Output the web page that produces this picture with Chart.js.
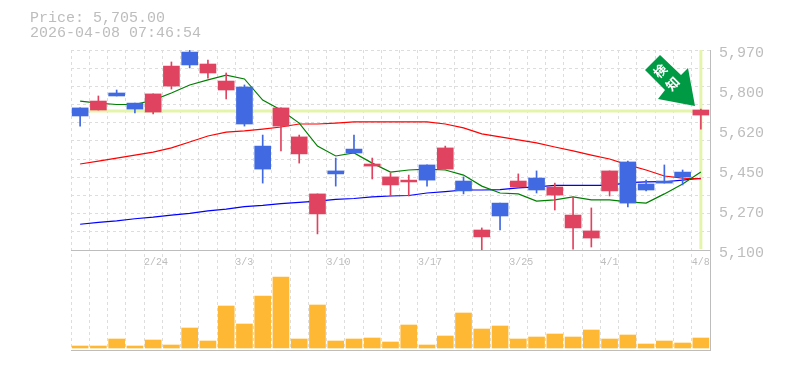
<!DOCTYPE html>
<html>
<head>
<meta charset="utf-8">
<style>
    html, body { margin: 0; padding: 0; background: #fff; }
    #wrap { width: 785px; height: 370px; position: relative; }
</style>
<script src="https://cdn.jsdelivr.net/npm/chart.js@4"></script>
</head>
<body>
<div id="wrap"><canvas id="stockChart" width="785" height="370"></canvas></div>
<script>
// Chart data
const dates = ['2/17', '2/18', '2/19', '2/20', '2/24', '2/25', '2/26', '2/27', '3/2', '3/3', '3/4', '3/5', '3/6', '3/9', '3/10', '3/11', '3/12', '3/13', '3/16', '3/17', '3/18', '3/19', '3/23', '3/24', '3/25', '3/26', '3/27', '3/30', '3/31', '4/1', '4/2', '4/3', '4/6', '4/7', '4/8'];
const shownDates = ['2/24', '3/3', '3/10', '3/17', '3/25', '4/1', '4/8'];

const opens = [5718, 5709, 5783, 5739, 5700, 5813, 5961, 5870, 5796, 5809, 5552, 5639, 5518, 5257, 5444, 5539, 5465, 5383, 5396, 5470, 5452, 5400, 5157, 5304, 5374, 5413, 5339, 5196, 5152, 5357, 5483, 5387, 5400, 5439, 5687];
const closes = [5683, 5748, 5770, 5713, 5779, 5900, 5905, 5909, 5835, 5648, 5452, 5718, 5592, 5344, 5431, 5522, 5474, 5418, 5404, 5404, 5544, 5357, 5187, 5248, 5400, 5361, 5374, 5252, 5183, 5444, 5304, 5361, 5391, 5418, 5709];
const highs = [5718, 5770, 5796, 5739, 5779, 5918, 5970, 5926, 5870, 5818, 5600, 5718, 5600, 5344, 5500, 5600, 5500, 5435, 5426, 5470, 5552, 5418, 5196, 5304, 5431, 5444, 5391, 5331, 5283, 5444, 5487, 5404, 5470, 5448, 5713];
const lows = [5639, 5709, 5770, 5696, 5692, 5800, 5892, 5848, 5757, 5639, 5391, 5531, 5478, 5170, 5378, 5522, 5409, 5335, 5335, 5378, 5452, 5344, 5100, 5187, 5374, 5348, 5274, 5104, 5113, 5335, 5287, 5357, 5391, 5383, 5626];

const maShort = [5748, 5739, 5733, 5733, 5752, 5783, 5818, 5840, 5861, 5844, 5752, 5709, 5652, 5552, 5509, 5522, 5478, 5439, 5448, 5452, 5448, 5426, 5378, 5348, 5344, 5313, 5318, 5331, 5318, 5318, 5309, 5304, 5344, 5387, 5439];
const maMid = [5474, 5487, 5500, 5513, 5526, 5544, 5570, 5596, 5613, 5618, 5626, 5635, 5648, 5648, 5652, 5657, 5657, 5657, 5657, 5657, 5648, 5631, 5605, 5592, 5579, 5566, 5548, 5531, 5513, 5496, 5470, 5448, 5422, 5413, 5409];
const maLong = [5212, 5220, 5227, 5236, 5243, 5252, 5259, 5270, 5278, 5289, 5294, 5302, 5307, 5313, 5320, 5324, 5331, 5335, 5337, 5348, 5354, 5361, 5361, 5363, 5370, 5375, 5381, 5381, 5381, 5381, 5393, 5396, 5397, 5404, 5412];

const volumes = [20, 20, 90, 20, 80, 30, 200, 70, 420, 240, 520, 710, 90, 430, 70, 90, 100, 60, 230, 30, 120, 350, 190, 220, 90, 110, 140, 110, 180, 90, 130, 40, 70, 50, 100];

const priceLabels = [5100, 5274, 5448, 5622, 5796, 5970];
const priceGrid = [5100, 5179, 5258, 5337, 5416, 5495, 5575, 5654, 5733, 5812, 5891, 5970];
const lastPrice = 5705;
const stamp = '2026-04-08 07:46:54';

const UP = '#e0435f';
const DOWN = '#4169e1';
const PALE = '#e4f5ab';
const GRID = '#dddddd';
const TEXT = '#bdbdbd';
const EDGE = '#bdbdbd';
const MONO = '"Liberation Mono", monospace';

// Price line and last day marker, behind everything
const markers = {
    id: 'markers',
    beforeDatasetsDraw(chart) {
        const { ctx, scales } = chart;
        const px = scales.x.getPixelForValue(dates.length - 1);
        const py = scales.y.getPixelForValue(lastPrice);
        ctx.save();
        ctx.strokeStyle = PALE;
        ctx.lineWidth = 3;
        ctx.beginPath();
        ctx.moveTo(scales.x.left, py);
        ctx.lineTo(px, py);
        ctx.moveTo(px, scales.y.top);
        ctx.lineTo(px, scales.y.bottom - 1);
        ctx.stroke();

        // solid line between price and volume panels
        ctx.strokeStyle = EDGE;
        ctx.lineWidth = 1;
        ctx.beginPath();
        ctx.moveTo(scales.x.left, Math.round(scales.y.bottom) + 0.5);
        ctx.lineTo(scales.x.right, Math.round(scales.y.bottom) + 0.5);
        ctx.stroke();
        ctx.restore();
    }
};

// Green signal arrow, title text and date labels
const overlay = {
    id: 'overlay',
    afterDraw(chart) {
        const { ctx, scales } = chart;
        ctx.save();
        ctx.fillStyle = '#009944';
        ctx.beginPath();
        ctx.moveTo(660, 55);
        ctx.lineTo(645, 70);
        ctx.lineTo(665, 90);
        ctx.lineTo(658, 99);
        ctx.lineTo(695, 106);
        ctx.lineTo(688, 68);
        ctx.lineTo(681, 75);
        ctx.closePath();
        ctx.fill();

        ctx.translate(660, 71);
        ctx.rotate(-Math.PI / 4);
        ctx.fillStyle = '#fff';
        ctx.font = 'bold 13px "Noto Sans CJK JP"';
        ctx.textAlign = 'center';
        ctx.textBaseline = 'middle';
        ctx.fillText('検', 0, 0);
        ctx.fillText('知', 0, 18);
        ctx.restore();

        ctx.save();
        ctx.fillStyle = TEXT;
        ctx.font = '15px ' + MONO;
        ctx.textBaseline = 'middle';
        ctx.fillText('Price: ' + lastPrice.toLocaleString('en-US', { minimumFractionDigits: 2 }), 30, 18);
        ctx.fillText(stamp, 30, 33);

        ctx.font = '10px ' + MONO;
        const step = scales.x.getPixelForValue(1) - scales.x.getPixelForValue(0);
        shownDates.forEach(d => {
            ctx.fillText(d, scales.x.getPixelForValue(dates.indexOf(d)) - step / 2, 262);
        });
        ctx.restore();
    }
};

new Chart(document.getElementById('stockChart'), {
    type: 'bar',
    data: {
        labels: dates,
        datasets: [
            { type: 'line', data: maShort, borderColor: '#008000', borderWidth: 1.2, pointRadius: 0, tension: 0, order: 3, yAxisID: 'y' },
            { type: 'line', data: maMid, borderColor: '#ff0000', borderWidth: 1.2, pointRadius: 0, tension: 0, order: 3, yAxisID: 'y' },
            { type: 'line', data: maLong, borderColor: '#0000ff', borderWidth: 1.2, pointRadius: 0, tension: 0, order: 3, yAxisID: 'y' },
            {
                data: dates.map((d, i) => [lows[i], highs[i]]),
                backgroundColor: closes.map((c, i) => c > opens[i] ? UP : DOWN),
                barThickness: 1, grouped: false, order: 2, yAxisID: 'y'
            },
            {
                data: dates.map((d, i) => [opens[i], closes[i]]),
                backgroundColor: closes.map((c, i) => c > opens[i] ? UP : DOWN),
                barThickness: 16, grouped: false, order: 1, yAxisID: 'y'
            },
            {
                data: volumes,
                backgroundColor: '#ffb833',
                barThickness: 16, grouped: false, order: 1, yAxisID: 'vol'
            }
        ]
    },
    options: {
        responsive: false,
        animation: false,
        layout: { padding: { left: 71, top: 50, bottom: 20, right: 0 } },
        plugins: { legend: { display: false }, tooltip: { enabled: false } },
        scales: {
            x: {
                offset: true,
                grid: { color: GRID, lineWidth: 1, offset: true, drawTicks: false },
                border: { dash: [3, 3], color: EDGE, display: true },
                ticks: { display: false, autoSkip: false }
            },
            y: {
                position: 'right',
                stack: 'main',
                stackWeight: 2,
                min: 5100,
                max: 5970,
                afterBuildTicks(scale) {
                    scale.ticks = [...new Set([...priceGrid, ...priceLabels])].sort((a, b) => a - b).map(value => ({ value }));
                },
                afterFit(scale) { scale.width = 75; },
                grid: {
                    color: c => priceGrid.includes(c.tick.value) && c.tick.value !== 5100 ? GRID : 'transparent',
                    drawTicks: false
                },
                border: { display: true, color: EDGE, dash: [3, 3] },
                ticks: {
                    autoSkip: false,
                    padding: 9,
                    labelOffset: 3,
                    color: TEXT,
                    font: { family: MONO, size: 15 },
                    callback(value) {
                        if (!priceLabels.includes(value)) return '';
                        return (Math.round(value / 10) * 10).toLocaleString('en-US');
                    }
                }
            },
            vol: {
                position: 'right',
                stack: 'main',
                stackWeight: 1,
                min: -20,
                max: 980,
                afterFit(scale) { scale.width = 75; },
                grid: { display: false },
                border: { display: true, color: EDGE },
                ticks: { display: false }
            }
        }
    },
    plugins: [markers, overlay]
});
</script>
</body>
</html>
